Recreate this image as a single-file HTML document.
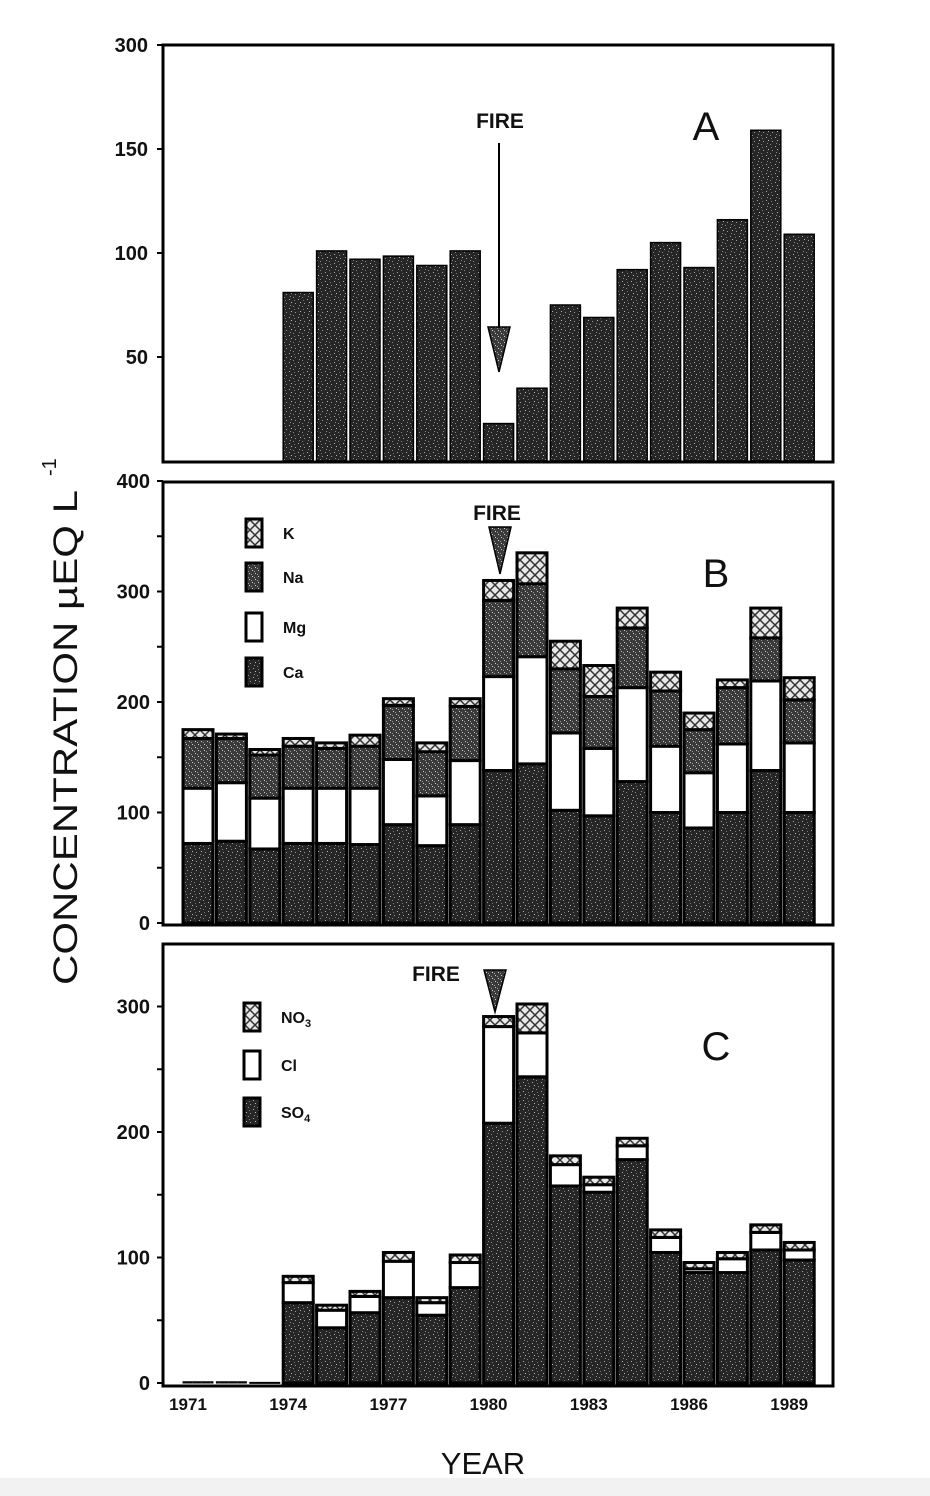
<!DOCTYPE html>
<html><head><meta charset="utf-8"><style>
html,body{margin:0;padding:0;background:#fff;}
svg{display:block;font-family:"Liberation Sans",Arial,sans-serif;}
</style></head><body>
<svg id="chart" width="930" height="1496" viewBox="0 0 930 1496" xmlns="http://www.w3.org/2000/svg">
<defs>
<pattern id="stip" width="9" height="9" patternUnits="userSpaceOnUse">
<rect width="9" height="9" fill="#262626"/>
<rect x="1" y="2" width="1" height="1" fill="#aaa"/><rect x="5" y="0" width="1" height="1" fill="#888"/>
<rect x="3" y="5" width="1" height="1" fill="#bbb"/><rect x="7" y="6" width="1" height="1" fill="#999"/>
<rect x="6" y="3" width="1" height="1" fill="#777"/><rect x="2" y="8" width="1" height="1" fill="#888"/>
</pattern>
<pattern id="mid" width="6" height="6" patternUnits="userSpaceOnUse">
<rect width="6" height="6" fill="#3a3a3a"/>
<rect x="0" y="0" width="1" height="1" fill="#ccc"/><rect x="3" y="3" width="1" height="1" fill="#ccc"/>
<rect x="2" y="1" width="1" height="1" fill="#999"/><rect x="5" y="4" width="1" height="1" fill="#999"/>
</pattern>
<pattern id="cross" width="10" height="10" patternUnits="userSpaceOnUse">
<rect width="10" height="10" fill="#e8e8e8"/>
<path d="M0 0L10 10M10 0L0 10" stroke="#333" stroke-width="1.5"/>
</pattern>
</defs>
<rect x="0" y="1478" width="930" height="18" fill="#f2f2f2"/>
</svg>
<script>
const yearsAll=[1971,1972,1973,1974,1975,1976,1977,1978,1979,1980,1981,1982,1983,1984,1985,1986,1987,1988,1989];
// Panel A
const yearsA=[1974,1975,1976,1977,1978,1979,1980,1981,1982,1983,1984,1985,1986,1987,1988,1989];
const valA=[81,101,97,98.5,94,101,18,35,75,69,92,105,93,116,159,109];
const ticksA=[50,100,150,200];
const tickLabelsA=["50","100","150","300"];
// Panel B (stacked: Ca, Mg, Na, K)
const caB=[72,74,67,72,72,71,89,70,89,138,144,102,97,128,100,86,100,138,100];
const mgB=[50,53,46,50,50,51,59,45,58,85,97,70,61,85,60,50,62,81,63];
const naB=[45,40,39,38,36,38,49,40,49,69,66,58,47,54,50,39,51,39,39];
const kB=[8,4,5,7,5,10,6,8,7,18,28,25,28,18,17,15,7,27,20];
const ticksB=[0,100,200,300,400];
// Panel C (stacked: SO4, Cl, NO3)
const so4C=[1,1,0.5,64,44,56,68,54,76,207,244,157,152,178,104,88,88,106,98];
const clC=[0,0,0,16,14,13,29,10,20,77,35,17,6,11,12,3,11,14,8];
const no3C=[0,0,0,5,4,4,7,4,6,8,23,7,6,6,6,5,5,6,6];
const ticksC=[0,100,200,300];
const xLabels=[1971,1974,1977,1980,1983,1986,1989];

const svg=document.getElementById('chart');
const NS='http://www.w3.org/2000/svg';
function el(tag,attrs,parent){const e=document.createElementNS(NS,tag);for(const k in attrs)e.setAttribute(k,attrs[k]);(parent||svg).appendChild(e);return e;}
function txt(s,attrs,parent){const e=el('text',attrs,parent);e.textContent=s;return e;}
const barLeft=y=>183+(y-1971)*33.4;
const BW=30;
const L=163,R=833;
const yA=v=>461-v*2.08;
const yB=v=>923-v*1.105;
const yC=v=>1383-v*1.255;

function frame(top,bottom,name){
  const r=el('rect',{x:L,y:top,width:R-L,height:bottom-top,fill:'none',stroke:'#000','stroke-width':3});
  
  
}
function tick(x,y,lab,name){
  const g=el('g',{});
  
  
  el('line',{x1:L-6,y1:y,x2:L,y2:y,stroke:'#000','stroke-width':2},g);
  if(lab!==null) txt(lab,{x:x,y:y+7,'text-anchor':'end','font-size':20,'font-weight':'bold',fill:'#111'},g);
}
// Panel A
const gA=el('g',{});
yearsA.forEach((yr,i)=>{
  const r=el('rect',{x:barLeft(yr),y:yA(valA[i]),width:BW,height:yA(0)-yA(valA[i]),fill:'url(#stip)',stroke:'#000','stroke-width':1.5},gA);
  
  
});
frame(45,462,'panel-a-frame');
ticksA.forEach((t,i)=>tick(148,yA(t),tickLabelsA[i],'y-tick-a-'+tickLabelsA[i]));

// Panel B
const gB=el('g',{});
yearsAll.forEach((yr,i)=>{
  const segs=[[caB[i],'url(#stip)','ca'],[mgB[i],'#fff','mg'],[naB[i],'url(#mid)','na'],[kB[i],'url(#cross)','k']];
  let base=0;
  segs.forEach(s=>{
    const r=el('rect',{x:barLeft(yr),y:yB(base+s[0]),width:BW,height:yB(base)-yB(base+s[0]),fill:s[1],stroke:'#000','stroke-width':3},gB);
    
    
    base+=s[0];
  });
});
frame(482,925,'panel-b-frame');
ticksB.forEach(t=>tick(150,yB(t),String(t),'y-tick-b-'+t));
[50,150,250,350].forEach(t=>tick(0,yB(t),null,'y-minor-tick-b-'+t));

// Panel C
const gC=el('g',{});
yearsAll.forEach((yr,i)=>{
  const segs=[[so4C[i],'url(#stip)','so4'],[clC[i],'#fff','cl'],[no3C[i],'url(#cross)','no3']];
  let base=0;
  segs.forEach(s=>{
    if(s[0]<=0) return;
    const r=el('rect',{x:barLeft(yr),y:yC(base+s[0]),width:BW,height:Math.max(1,yC(base)-yC(base+s[0])),fill:s[1],stroke:'#000','stroke-width':yr<1974?1:3},gC);
    
    
    base+=s[0];
  });
});
frame(944,1386,'panel-c-frame');
ticksC.forEach(t=>tick(150,yC(t),String(t),'y-tick-c-'+t));
[50,150,250].forEach(t=>tick(0,yC(t),null,'y-minor-tick-c-'+t));
xLabels.forEach(yr=>{
  const t=txt(String(yr),{x:barLeft(yr)+BW/2-10,y:1410,'text-anchor':'middle','font-size':17,'font-weight':'bold',fill:'#111'});
  
  
});

// Legends
function legend(items,x,parentName){
  const g=el('g',{});
  
  
  items.forEach(it=>{
    const e=el('g',{},g);
    
    
    el('rect',{x:x,y:it[2],width:16,height:28,fill:it[1],stroke:'#000','stroke-width':3},e);
    const t=txt(it[0],{x:x+37,y:it[2]+20,'font-size':16,'font-weight':'bold',fill:'#111'},e);
    if(it[3]){const s=el('tspan',{'font-size':11,dy:4},t);s.textContent=it[3];}
  });
}
legend([['K','url(#cross)',519],['Na','url(#mid)',563],['Mg','#fff',613],['Ca','url(#stip)',658]],246,'legend-b');
legend([['NO','url(#cross)',1003,'3'],['Cl','#fff',1051],['SO','url(#stip)',1098,'4']],244,'legend-c');

// Annotations
function fire(lx,ly,x,y1,y2,lineTop,name){
  const g=el('g',{});
  
  
  txt('FIRE',{x:lx,y:ly,'text-anchor':'middle','font-size':21,'font-weight':'bold',fill:'#111'},g);
  if(lineTop!==null) el('line',{x1:x,y1:lineTop,x2:x,y2:y1,stroke:'#000','stroke-width':2},g);
  el('polygon',{points:`${x-11},${y1} ${x+11},${y1} ${x},${y2}`,fill:'url(#mid)',stroke:'#000','stroke-width':1.5},g);
}
fire(500,128,499,327,372,143,'fire-annotation-a');
fire(497,520,500,527,574,null,'fire-annotation-b');
fire(436,981,495,970,1012,null,'fire-annotation-c');
[['A',706,140],['B',716,587],['C',716,1060]].forEach(p=>{
  const t=txt(p[0],{x:p[1],y:p[2],'text-anchor':'middle','font-size':40,fill:'#111'});
  
  
});
const yt=txt('CONCENTRATION \u00b5EQ L',{x:0,y:0,'font-size':34,fill:'#111',textLength:495,lengthAdjust:'spacingAndGlyphs',transform:'translate(77,985) rotate(-90)'});


const ys=txt('-1',{x:0,y:0,'font-size':20,fill:'#111',transform:'translate(56,476) rotate(-90)'});


const xt=txt('YEAR',{x:483,y:1474,'text-anchor':'middle','font-size':31,fill:'#111'});


</script>
</body></html>
